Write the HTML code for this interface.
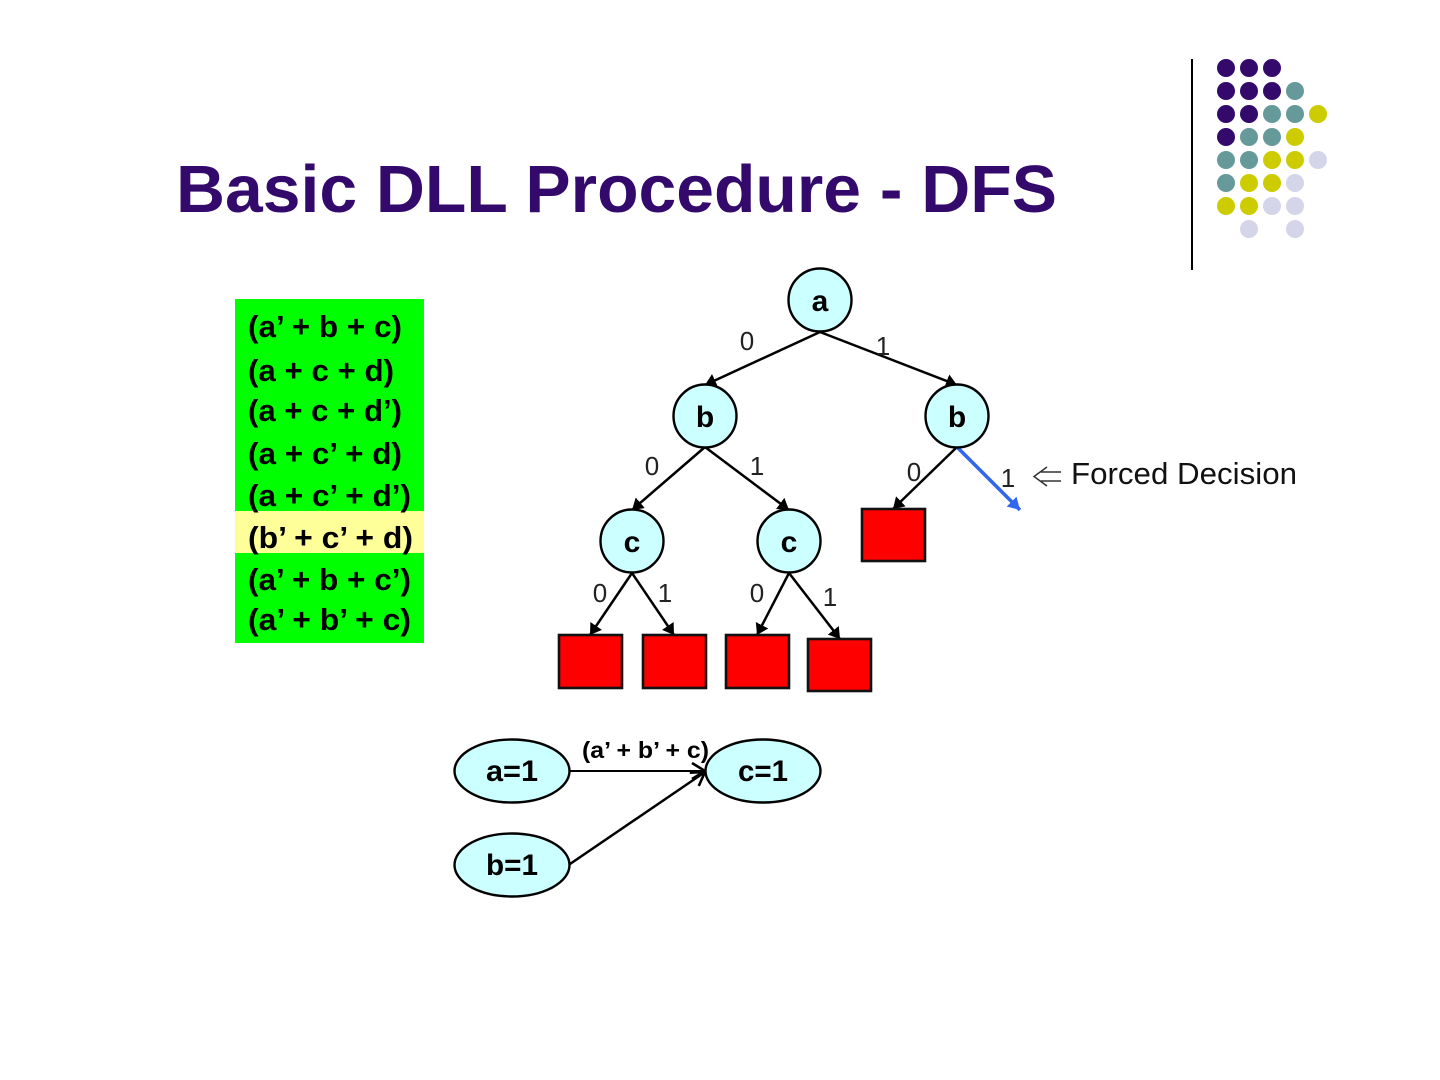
<!DOCTYPE html>
<html><head><meta charset="utf-8"><style>
html,body{margin:0;padding:0;background:#fff;width:1440px;height:1080px;overflow:hidden}
svg{display:block}
text{font-family:"Liberation Sans",sans-serif}
.cl{font-size:31px;font-weight:bold;fill:#000}
.n{font-size:30px;font-weight:bold;fill:#000;text-anchor:middle}
.e{font-size:26px;fill:#222;text-anchor:middle}
.l{stroke:#000;stroke-width:2.5;fill:none}
.c{fill:#ccffff;stroke:#000;stroke-width:2.4}
.r{fill:#ff0000;stroke:#111;stroke-width:2.6}
</style></head><body>
<svg width="1440" height="1080" viewBox="0 0 1440 1080" xmlns="http://www.w3.org/2000/svg">
<defs>
<marker id="a" markerUnits="userSpaceOnUse" markerWidth="12" markerHeight="14" refX="11" refY="7" orient="auto"><path d="M0,0 L11,7 L0,14 Z" fill="#000"/></marker>
<marker id="b" markerUnits="userSpaceOnUse" markerWidth="13" markerHeight="14" refX="12" refY="7" orient="auto"><path d="M0,0 L12,7 L0,14 Z" fill="#3366ee"/></marker>
<marker id="o" markerUnits="userSpaceOnUse" markerWidth="16" markerHeight="18" refX="14" refY="9" orient="auto"><path d="M1,1 L14,9 L1,17" fill="none" stroke="#000" stroke-width="2.6"/></marker>
</defs>
<line x1="1192" y1="59" x2="1192" y2="270" stroke="#000" stroke-width="2"/>
<g fill="#330a6b">
<circle cx="1226" cy="68" r="9"/><circle cx="1249" cy="68" r="9"/><circle cx="1272" cy="68" r="9"/>
<circle cx="1226" cy="91" r="9"/><circle cx="1249" cy="91" r="9"/><circle cx="1272" cy="91" r="9"/>
<circle cx="1226" cy="114" r="9"/><circle cx="1249" cy="114" r="9"/>
<circle cx="1226" cy="137" r="9"/>
</g>
<g fill="#669999">
<circle cx="1295" cy="91" r="9"/>
<circle cx="1272" cy="114" r="9"/><circle cx="1295" cy="114" r="9"/>
<circle cx="1249" cy="137" r="9"/><circle cx="1272" cy="137" r="9"/>
<circle cx="1226" cy="160" r="9"/><circle cx="1249" cy="160" r="9"/>
<circle cx="1226" cy="183" r="9"/>
</g>
<g fill="#cccc00">
<circle cx="1318" cy="114" r="9"/>
<circle cx="1295" cy="137" r="9"/>
<circle cx="1272" cy="160" r="9"/><circle cx="1295" cy="160" r="9"/>
<circle cx="1249" cy="183" r="9"/><circle cx="1272" cy="183" r="9"/>
<circle cx="1226" cy="206" r="9"/><circle cx="1249" cy="206" r="9"/>
</g>
<g fill="#d5d5ea">
<circle cx="1318" cy="160" r="9"/>
<circle cx="1295" cy="183" r="9"/>
<circle cx="1272" cy="206" r="9"/><circle cx="1295" cy="206" r="9"/>
<circle cx="1249" cy="229" r="9"/><circle cx="1295" cy="229" r="9"/>
</g>
<text x="176" y="212" font-size="67" font-weight="bold" fill="#330a6b" textLength="881" lengthAdjust="spacingAndGlyphs">Basic DLL Procedure - DFS</text>

<rect x="235" y="299" width="189" height="344" fill="#00ff00"/>
<rect x="235" y="511" width="189" height="42" fill="#ffff99"/>
<text class="cl" x="248" y="337" textLength="154" lengthAdjust="spacingAndGlyphs">(a’ + b + c)</text>
<text class="cl" x="248" y="381" textLength="146" lengthAdjust="spacingAndGlyphs">(a + c + d)</text>
<text class="cl" x="248" y="421" textLength="154" lengthAdjust="spacingAndGlyphs">(a + c + d’)</text>
<text class="cl" x="248" y="464" textLength="154" lengthAdjust="spacingAndGlyphs">(a + c’ + d)</text>
<text class="cl" x="248" y="506" textLength="163" lengthAdjust="spacingAndGlyphs">(a + c’ + d’)</text>
<text class="cl" x="248" y="548" textLength="165" lengthAdjust="spacingAndGlyphs">(b’ + c’ + d)</text>
<text class="cl" x="248" y="590" textLength="163" lengthAdjust="spacingAndGlyphs">(a’ + b + c’)</text>
<text class="cl" x="248" y="630" textLength="163" lengthAdjust="spacingAndGlyphs">(a’ + b’ + c)</text>

<line class="l" x1="820" y1="332" x2="705" y2="385" marker-end="url(#a)"/>
<line class="l" x1="820" y1="332" x2="957" y2="385" marker-end="url(#a)"/>
<line class="l" x1="705" y1="447" x2="632" y2="510" marker-end="url(#a)"/>
<line class="l" x1="705" y1="447" x2="789" y2="510" marker-end="url(#a)"/>
<line class="l" x1="957" y1="447" x2="893" y2="509" marker-end="url(#a)"/>
<line class="l" x1="632" y1="573" x2="590" y2="635" marker-end="url(#a)"/>
<line class="l" x1="632" y1="573" x2="674" y2="635" marker-end="url(#a)"/>
<line class="l" x1="789" y1="573" x2="757" y2="635" marker-end="url(#a)"/>
<line class="l" x1="789" y1="573" x2="840" y2="639" marker-end="url(#a)"/>
<line x1="957" y1="447" x2="1020" y2="510" stroke="#3366ee" stroke-width="3.6" marker-end="url(#b)"/>

<circle class="c" cx="820" cy="300" r="31.5"/>
<circle class="c" cx="705" cy="416" r="31.5"/>
<circle class="c" cx="957" cy="416" r="31.5"/>
<circle class="c" cx="632" cy="541" r="31.5"/>
<circle class="c" cx="789" cy="541" r="31.5"/>
<text class="n" x="820" y="311">a</text>
<text class="n" x="705" y="427">b</text>
<text class="n" x="957" y="427">b</text>
<text class="n" x="632" y="552">c</text>
<text class="n" x="789" y="552">c</text>

<rect class="r" x="862" y="509" width="63" height="52"/>
<rect class="r" x="559" y="635" width="63" height="53"/>
<rect class="r" x="643" y="635" width="63" height="53"/>
<rect class="r" x="726" y="635" width="63" height="53"/>
<rect class="r" x="808" y="639" width="63" height="52"/>

<text class="e" x="747" y="350">0</text>
<text class="e" x="883" y="355">1</text>
<text class="e" x="652" y="475">0</text>
<text class="e" x="757" y="475">1</text>
<text class="e" x="914" y="481">0</text>
<text class="e" x="1008" y="487">1</text>
<text class="e" x="600" y="602">0</text>
<text class="e" x="665" y="602">1</text>
<text class="e" x="757" y="602">0</text>
<text class="e" x="830" y="606">1</text>

<g fill="none" stroke="#333" stroke-width="1.5">
<path d="M1061,472 H1041 M1061,481 H1041 M1047,467 L1034,476.5 L1047,486"/>
</g>
<text x="1071" y="484" font-size="31" fill="#111" textLength="226" lengthAdjust="spacingAndGlyphs">Forced Decision</text>

<line x1="570" y1="771" x2="705" y2="771" stroke="#000" stroke-width="2" marker-end="url(#o)"/>
<line x1="570" y1="864" x2="705" y2="772" stroke="#000" stroke-width="2.5" marker-end="url(#o)"/>
<ellipse class="c" cx="512" cy="771" rx="57.5" ry="31.5"/>
<ellipse class="c" cx="512" cy="865" rx="57.5" ry="31.5"/>
<ellipse class="c" cx="763" cy="771" rx="57.5" ry="31.5"/>
<text class="n" x="512" y="781" textLength="52" lengthAdjust="spacingAndGlyphs">a=1</text>
<text class="n" x="512" y="875" textLength="52" lengthAdjust="spacingAndGlyphs">b=1</text>
<text class="n" x="763" y="781" textLength="50" lengthAdjust="spacingAndGlyphs">c=1</text>
<text x="582" y="758" font-size="23" font-weight="bold" fill="#000" textLength="127" lengthAdjust="spacingAndGlyphs">(a’ + b’ + c)</text>
</svg>
</body></html>
